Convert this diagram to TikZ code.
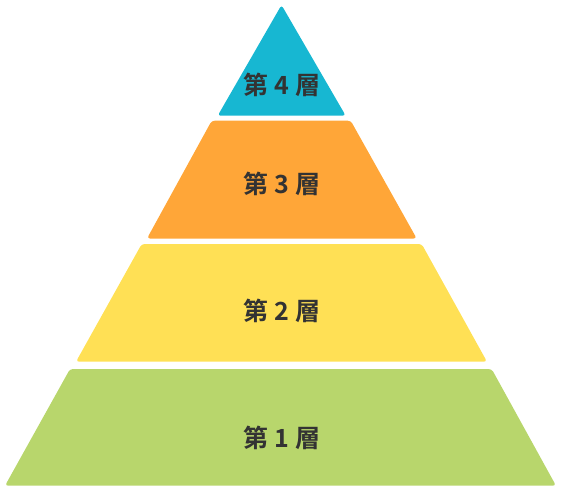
\documentclass[tikz,border=0pt]{standalone}
\usepackage{fontspec}
\newfontfamily\cjk{Noto Sans CJK JP Bold}
\definecolor{cblue}{RGB}{23,183,210}
\definecolor{corange}{RGB}{255,166,56}
\definecolor{cyellow}{RGB}{255,224,85}
\definecolor{cgreen}{RGB}{184,214,108}
\definecolor{ctext}{RGB}{51,51,51}
\begin{document}
\begin{tikzpicture}[x=1pt,y=-1pt,
  layer/.style={rounded corners=3pt},
  lbl/.style={font=\cjk\fontsize{25}{25}\selectfont, text=ctext, inner sep=0pt}]
\useasboundingbox (0,0) rectangle (561,491);
\fill[layer, cblue] (281.5,5) -- (345.7,115.7) -- (217.7,115.7) -- cycle;
\fill[layer, corange] (211.7,120.7) -- (350.7,120.7) -- (416.7,238.5) -- (147,238.5) -- cycle;
\fill[layer, cyellow] (141.7,244) -- (421.7,244) -- (487,361.7) -- (76,361.7) -- cycle;
\fill[layer, cgreen] (70,369) -- (491.7,369) -- (556,485.7) -- (5,485.7) -- cycle;
\node[lbl] (l4) at (282,85) {第 4 層};
\node[lbl] (l3) at (282,184) {第 3 層};
\node[lbl] (l2) at (282,311) {第 2 層};
\node[lbl] (l1) at (282,438) {第 1 層};
\end{tikzpicture}
\end{document}
